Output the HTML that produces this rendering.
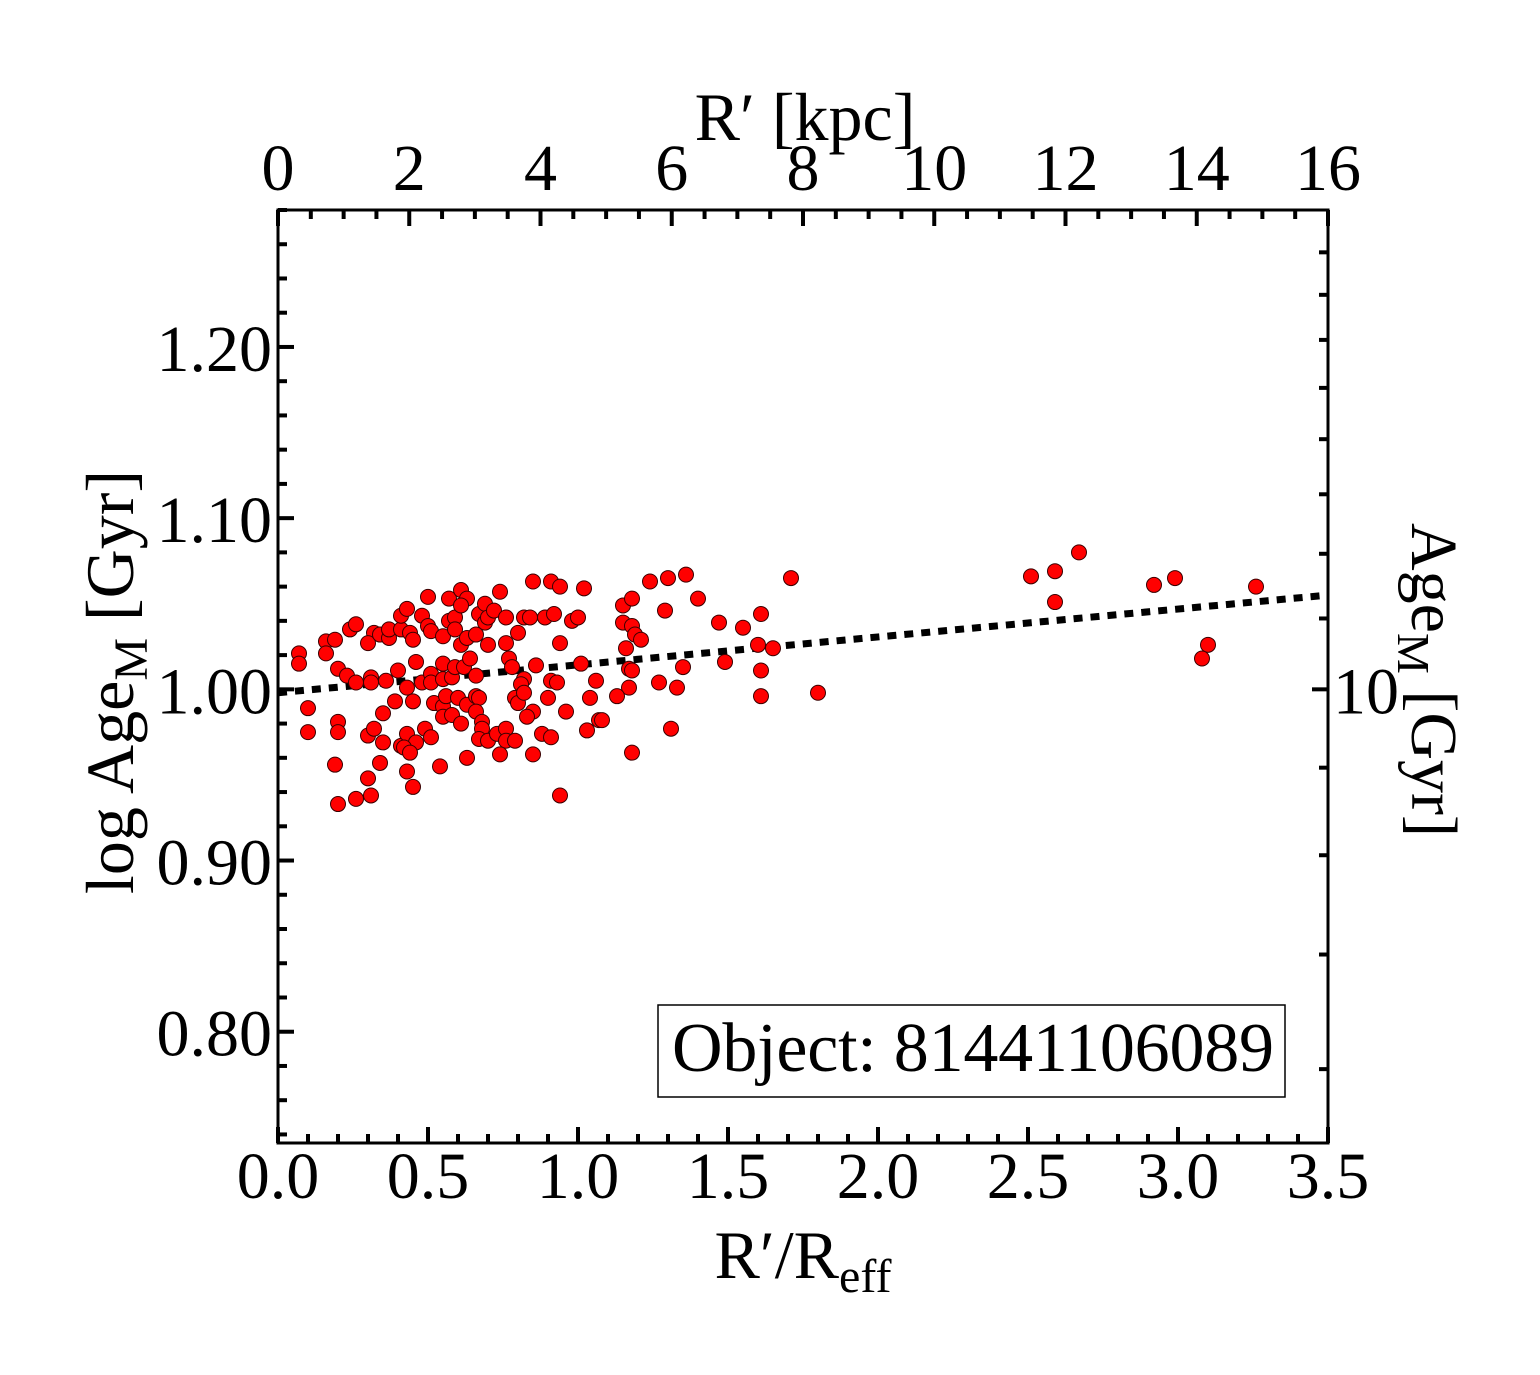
<!DOCTYPE html>
<html><head><meta charset="utf-8">
<style>
body{margin:0;background:#fff;}
svg{display:block;font-family:"Liberation Serif",serif;}
</style></head>
<body>
<svg id="chart" width="1540" height="1375" viewBox="0 0 1540 1375">
<g id="ticks"></g>
<g id="labels"></g>
<g id="fit"></g>
<g id="points"></g>
<rect x="278" y="210" width="1050" height="933" fill="none" stroke="#000" stroke-width="3"/>
<text x="805" y="140" font-size="68" text-anchor="middle">R′ [kpc]</text>
<text x="803" y="1278" font-size="68" text-anchor="middle">R′/R<tspan font-size="48" dy="14">eff</tspan></text>
<text transform="translate(133,682) rotate(-90)" font-size="68" text-anchor="middle">log Age<tspan font-size="48" dy="14">M</tspan><tspan dy="-14"> [Gyr]</tspan></text>
<text transform="translate(1412,680) rotate(90)" font-size="66" text-anchor="middle">Age<tspan font-size="46" dy="14">M</tspan><tspan dy="-14"> [Gyr]</tspan></text>
<g>
<rect x="658" y="1005" width="627" height="92" fill="#fff" stroke="#000" stroke-width="1.5"/>
<text x="672" y="1071" font-size="70" textLength="602">Object: 81441106089</text>
</g>
</svg>
<script>
const xs = [0.07,0.07,0.16,0.19,0.16,0.24,0.26,0.20,0.23,0.26,0.31,0.31,0.36,0.40,0.43,0.46,0.48,0.51,0.51,0.55,0.55,0.58,0.59,0.62,0.64,0.66,0.32,0.30,0.34,0.37,0.37,0.41,0.41,0.43,0.44,0.45,0.48,0.50,0.50,0.51,0.55,0.57,0.57,0.59,0.59,0.61,0.63,0.61,0.61,0.63,0.66,0.67,0.69,0.69,0.70,0.72,0.70,0.74,0.76,0.76,0.80,0.82,0.84,0.85,0.91,0.94,0.89,0.92,0.94,0.98,1.00,1.02,0.77,0.78,0.86,1.01,0.82,0.81,0.91,0.93,1.06,0.10,0.10,0.20,0.20,0.19,0.20,0.26,0.31,0.30,0.34,0.35,0.30,0.32,0.39,0.35,0.41,0.43,0.46,0.42,0.44,0.43,0.45,0.49,0.51,0.45,0.52,0.55,0.55,0.58,0.61,0.56,0.60,0.63,0.66,0.67,0.66,0.68,0.68,0.67,0.70,0.73,0.76,0.76,0.79,0.74,0.63,0.54,0.79,0.80,0.82,0.85,0.83,0.88,0.91,0.85,0.90,0.96,1.04,1.03,0.94,1.07,1.24,1.30,1.36,1.40,1.15,1.18,1.29,1.15,1.18,1.19,1.21,1.16,1.47,1.55,1.61,1.71,1.60,1.65,1.17,1.18,1.35,1.49,1.61,1.17,1.27,1.33,1.13,1.61,1.80,1.08,1.31,1.18,2.51,2.59,2.67,2.59,2.92,2.99,3.26,3.10,3.08];
const ys = [1.021,1.015,1.028,1.029,1.021,1.035,1.038,1.012,1.008,1.004,1.007,1.004,1.005,1.011,1.001,1.016,1.004,1.009,1.004,1.015,1.006,1.007,1.013,1.013,1.018,1.008,1.033,1.027,1.032,1.030,1.035,1.035,1.043,1.047,1.033,1.029,1.043,1.037,1.054,1.034,1.031,1.053,1.040,1.042,1.035,1.058,1.053,1.049,1.026,1.030,1.032,1.044,1.050,1.039,1.042,1.046,1.026,1.057,1.042,1.027,1.033,1.042,1.042,1.063,1.063,1.060,1.042,1.044,1.027,1.040,1.042,1.059,1.018,1.013,1.014,1.015,1.006,1.003,1.005,1.004,1.005,0.989,0.975,0.981,0.975,0.956,0.933,0.936,0.938,0.948,0.957,0.969,0.973,0.977,0.993,0.986,0.967,0.974,0.969,0.966,0.963,0.952,0.943,0.977,0.972,0.993,0.992,0.990,0.984,0.985,0.980,0.996,0.995,0.991,0.996,0.995,0.987,0.981,0.977,0.971,0.970,0.974,0.977,0.970,0.970,0.962,0.960,0.955,0.995,0.992,0.998,0.987,0.984,0.974,0.972,0.962,0.995,0.987,0.995,0.976,0.938,0.982,1.063,1.065,1.067,1.053,1.049,1.053,1.046,1.039,1.037,1.032,1.029,1.024,1.039,1.036,1.044,1.065,1.026,1.024,1.012,1.011,1.013,1.016,1.011,1.001,1.004,1.001,0.996,0.996,0.998,0.982,0.977,0.963,1.066,1.069,1.080,1.051,1.061,1.065,1.060,1.026,1.018];
const fitIntercept = 0.998;
const fitSlope = 0.0163;
const bottomTicks = ["0.0","0.5","1.0","1.5","2.0","2.5","3.0","3.5"];
const topTicks = ["0","2","4","6","8","10","12","14","16"];
const leftTicks = ["0.80","0.90","1.00","1.10","1.20"];
const rightLogTicks = [6,7,8,9,10,11,12,13,14,15,16,17,18];

const X0=278,X1=1328,Y0=210,Y1=1143;
const xMin=0,xMax=3.5,yMin=0.735,yMax=1.28,kMax=16;
const sx=v=>X0+(v-xMin)/(xMax-xMin)*(X1-X0);
const sk=v=>X0+v/kMax*(X1-X0);
const sy=v=>Y1-(v-yMin)/(yMax-yMin)*(Y1-Y0);
const NS='http://www.w3.org/2000/svg';
function mk(tag,attrs,parent){const e=document.createElementNS(NS,tag);for(const k in attrs)e.setAttribute(k,attrs[k]);parent.appendChild(e);return e;}
const T=document.getElementById('ticks'),L=document.getElementById('labels');
function line(x1,y1,x2,y2,name){const e=mk('line',{x1,y1,x2,y2,stroke:'#000','stroke-width':4},T);

}
for(let i=0;i<=35;i++){const v=i/10,x=sx(v),maj=i%5===0;line(x,Y1,x,Y1-(maj?16:9),'x-tick');}
bottomTicks.forEach(t=>{const e=mk('text',{x:sx(parseFloat(t)),y:1198,'font-size':66,'text-anchor':'middle'},L);e.textContent=t;

});
for(let i=0;i<=32;i++){const v=i/2,x=sk(v),maj=i%4===0;line(x,Y0,x,Y0+(maj?16:9),'top-tick');}
topTicks.forEach(t=>{const e=mk('text',{x:sk(parseFloat(t)),y:190,'font-size':66,'text-anchor':'middle'},L);e.textContent=t;

});
for(let i=74;i<=128;i+=2){const v=i/100,y=sy(v),maj=i%10===0;line(X0,y,X0+(maj?16:9),y,'y-tick');}
leftTicks.forEach(t=>{const e=mk('text',{x:272,y:sy(parseFloat(t))+24,'font-size':66,'text-anchor':'end'},L);e.textContent=t;

});
rightLogTicks.forEach(v=>{const y=sy(Math.log10(v)),maj=v===10;line(X1,y,X1-(maj?16:9),y,'right-tick');});
{const e=mk('text',{x:1333,y:sy(1)+24,'font-size':66},L);e.textContent='10';

}
{const F=document.getElementById('fit');const e=mk('line',{x1:sx(0),y1:sy(fitIntercept),x2:sx(xMax),y2:sy(fitIntercept+fitSlope*xMax),stroke:'#000','stroke-width':7,'stroke-dasharray':'9 8'},F);

}
const P=document.getElementById('points');
xs.forEach((v,i)=>{const c=mk('circle',{cx:sx(v),cy:sy(ys[i]),r:7.5,fill:'#ff0000',stroke:'#3a0000','stroke-width':1},P);

});
</script>
</body></html>
